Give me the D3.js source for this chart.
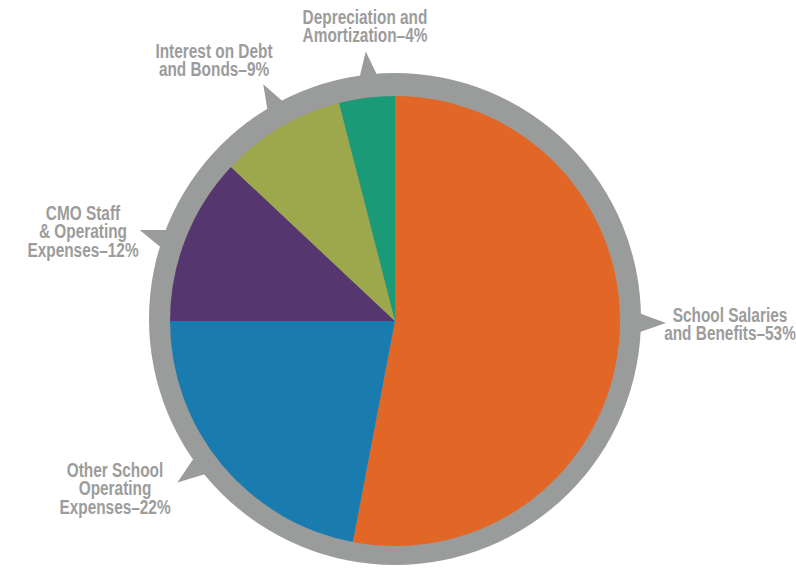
<!DOCTYPE html>
<html>
<head>
<meta charset="utf-8">
<script src="https://cdn.jsdelivr.net/npm/d3@7"></script>
<style>
  html, body { margin: 0; padding: 0; background: #fff; }
  svg { display: block; }
</style>
</head>
<body>
<div id="chart"></div>
<script>
// ----------------------------------
// DATA
// ----------------------------------
const categories = [
	"School Salaries and Benefits",
	"Other School Operating Expenses",
	"CMO Staff & Operating Expenses",
	"Interest on Debt and Bonds",
	"Depreciation and Amortization"
];
const shares = [53, 22, 12, 9, 4];
const labelLines = [
	["School Salaries", "and Benefits–53%"],
	["Other School", "Operating", "Expenses–22%"],
	["CMO Staff", "& Operating", "Expenses–12%"],
	["Interest on Debt", "and Bonds–9%"],
	["Depreciation and", "Amortization–4%"]
];
const sliceColors = ["#e26726", "#1a7bae", "#56366f", "#9da84c", "#1b9a77"];

// label placement (layout only): text centre, first baseline, pointer offset (deg)
const labelLayout = [
	{x: 730, y: 322, nudge: -5},
	{x: 115, y: 477, nudge: 3},
	{x: 83, y: 220, nudge: -2},
	{x: 214, y: 58, nudge: 1.5},
	{x: 365, y: 24, nudge: 1}
];

const width = 796,
	height = 570,
	cx = 395,
	cy = 321,
	radius = 225,
	ringRadius = 246,
	lineHeight = 18.5,
	squeeze = 0.77, // no narrow font installed, so condense the sans by hand
	grey = "#9a9b9b",
	textGrey = "#9c9c9c";

const svg = d3.select("#chart")
	.append("svg")
	.attr("width", width)
	.attr("height", height);

const g = svg.append("g")
	.attr("transform", `translate(${cx},${cy})`);

const pie = d3.pie().sort(null).value(d => d);
const arcs = pie(shares);

// ----------------------------------
// GREY RING + POINTERS
// ----------------------------------
g.append("circle")
	.attr("cx", 0)
	.attr("cy", -2)
	.attr("r", ringRadius)
	.style("fill", grey);

const pointer = (a) => {
	const half = 12 / 240;
	const pt = (r, t) => [r * Math.sin(t), -r * Math.cos(t)];
	return "M" + [pt(238, a - half), pt(271, a), pt(238, a + half)].map(p => p.join(",")).join("L") + "Z";
};

g.selectAll("path.pointer")
	.data(arcs)
	.enter()
	.append("path")
		.classed("pointer", true)
		.attr("d", (d, i) => pointer((d.startAngle + d.endAngle) / 2 + labelLayout[i].nudge * Math.PI / 180))
		.style("fill", grey);

// ----------------------------------
// SLICES
// ----------------------------------
const arc = d3.arc().innerRadius(0).outerRadius(radius);

g.selectAll("path.slice")
	.data(arcs)
	.enter()
	.append("path")
		.classed("slice", true)
		.attr("d", arc)
		.style("fill", (d, i) => sliceColors[i]);

// ----------------------------------
// LABELS
// ----------------------------------
const labels = svg.append("g").classed("labels", true);

labels.selectAll("text")
	.data(labelLines)
	.enter()
	.append("text")
		.attr("x", 0)
		.attr("y", 0)
		.attr("transform", (d, i) => `translate(${labelLayout[i].x},${labelLayout[i].y}) scale(${squeeze},1)`)
		.attr("text-anchor", "middle")
		.style("font-family", "'Liberation Sans Narrow', 'Arial Narrow', 'Liberation Sans', sans-serif")
		.style("font-size", "20px")
		.style("font-weight", "bold")
		.style("fill", textGrey)
		.each(function(lines){
			d3.select(this).selectAll("tspan")
				.data(lines)
				.enter()
				.append("tspan")
					.attr("x", 0)
					.attr("dy", (l, j) => j === 0 ? 0 : lineHeight)
					.text(l => l);
		});
</script>
</body>
</html>
